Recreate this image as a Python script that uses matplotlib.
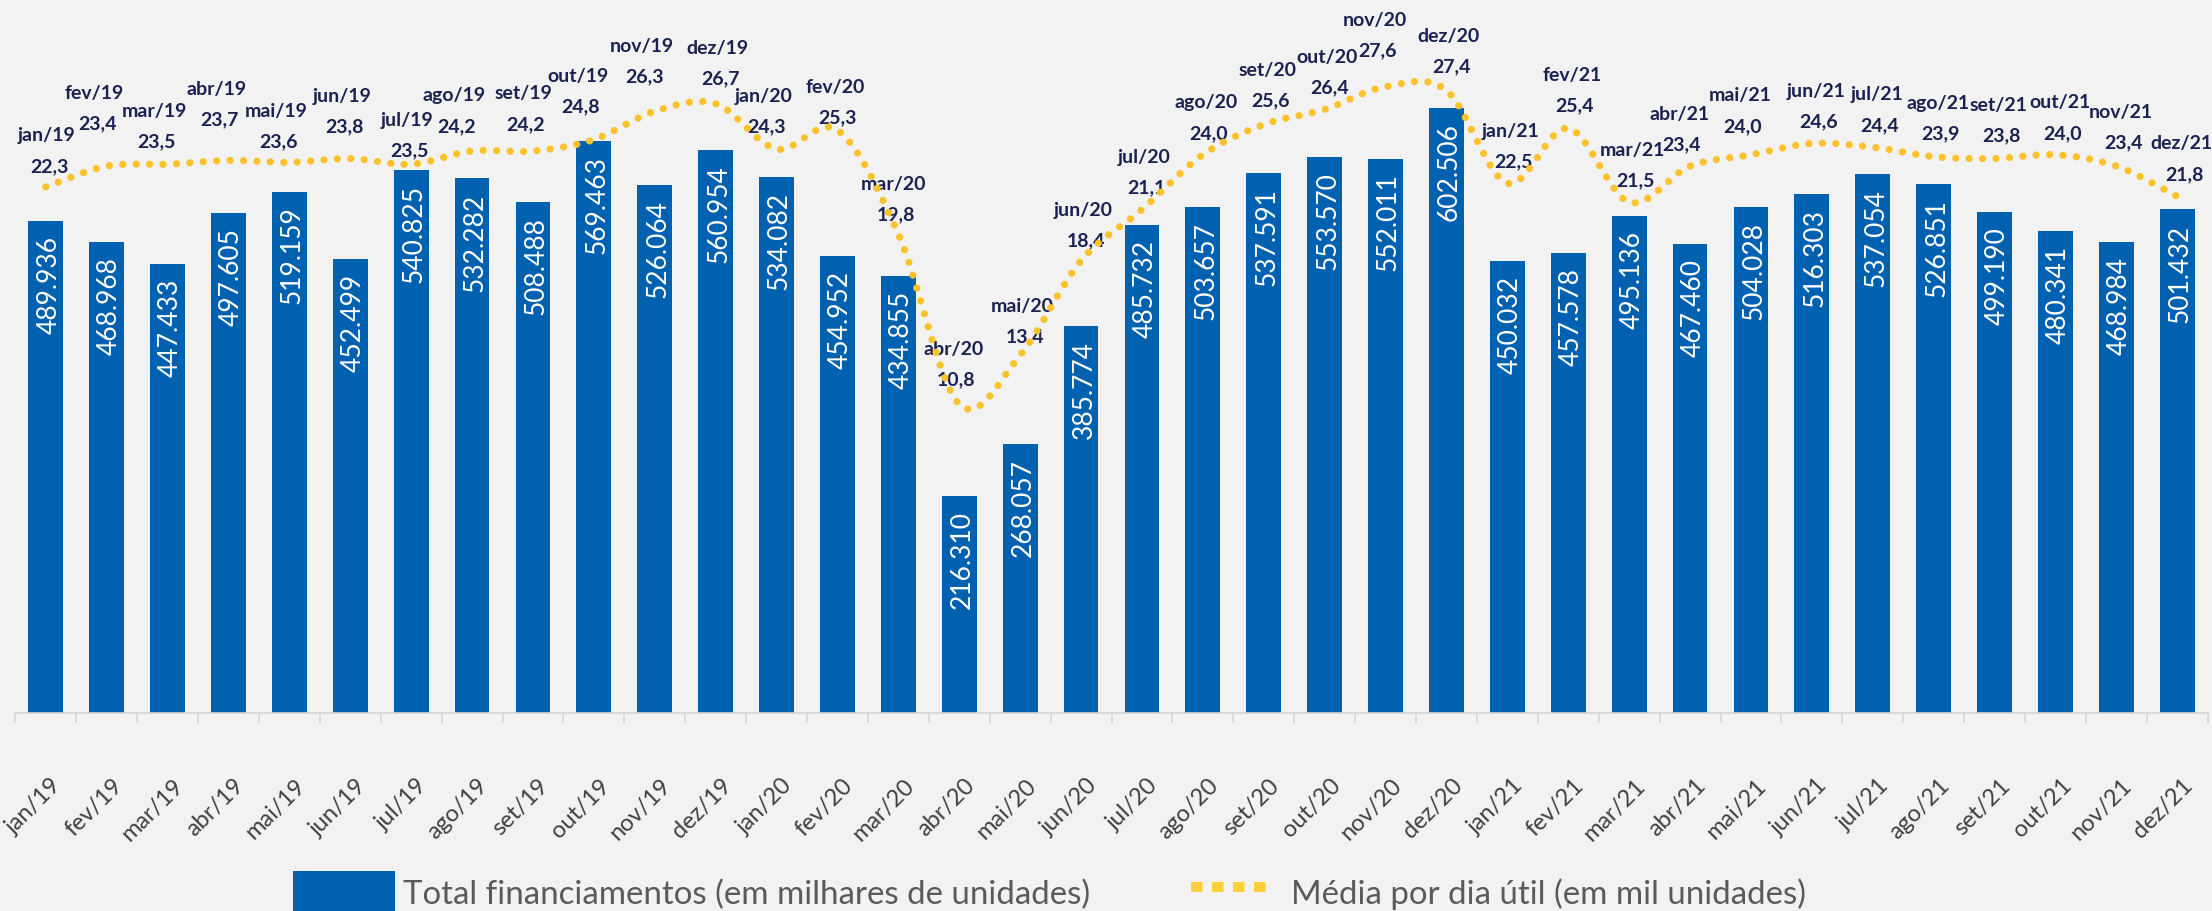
import matplotlib
matplotlib.use("Agg")
import matplotlib.pyplot as plt
import numpy as np
from matplotlib.path import Path
from matplotlib.patches import PathPatch, Patch
from matplotlib.lines import Line2D
from matplotlib.legend_handler import HandlerLine2D
import matplotlib.transforms as mtransforms


# Data
months = [
    "jan/19", "fev/19", "mar/19", "abr/19", "mai/19", "jun/19",
    "jul/19", "ago/19", "set/19", "out/19", "nov/19", "dez/19",
    "jan/20", "fev/20", "mar/20", "abr/20", "mai/20", "jun/20",
    "jul/20", "ago/20", "set/20", "out/20", "nov/20", "dez/20",
    "jan/21", "fev/21", "mar/21", "abr/21", "mai/21", "jun/21",
    "jul/21", "ago/21", "set/21", "out/21", "nov/21", "dez/21",
]
total_financiamentos = [
    489.936, 468.968, 447.433, 497.605, 519.159, 452.499,
    540.825, 532.282, 508.488, 569.463, 526.064, 560.954,
    534.082, 454.952, 434.855, 216.310, 268.057, 385.774,
    485.732, 503.657, 537.591, 553.570, 552.011, 602.506,
    450.032, 457.578, 495.136, 467.460, 504.028, 516.303,
    537.054, 526.851, 499.190, 480.341, 468.984, 501.432,
]
media_dia_util = [
    22.3, 23.4, 23.5, 23.7, 23.6, 23.8, 23.5, 24.2, 24.2, 24.8, 26.3, 26.7,
    24.3, 25.3, 19.8, 10.8, 13.4, 18.4, 21.1, 24.0, 25.6, 26.4, 27.6, 27.4,
    22.5, 25.4, 21.5, 23.4, 24.0, 24.6, 24.4, 23.9, 23.8, 24.0, 23.4, 21.8,
]

# Label placement (pixel offsets of the month label from its point)
label_dx = [1, -12, -13.5, -12, -13.5, -8, -4, -18, -9.5, -15.5, -13, 2,
            -13, -2.5, -5, -6, 2.5, 2.3, 2, 3, 4, 2, -11, 2.5,
            3.3, 3.7, 3.5, -10.7, -11, 4, 4, 4, 4, 5, 4.4, 4.5]
label_dy = [52, 74, 54, 72, 52, 63, 45, 56, 58, 64, 66, 56,
            53.5, 44, 51, 56, 50, 51, 53, 53, 55, 53, 67, 55,
            53, 54, 52.5, 53, 60, 53, 53.4, 54, 54, 53, 54.5, 53.5]

BG = "#f2f2f2"
BLUE = "#0061b0"
YELLOW = "#fbc22b"
NAVY = "#1b2150"
FONT = "Lato"

plt.rcParams["font.family"] = [FONT, "DejaVu Sans"]

fig = plt.figure(figsize=(22.12, 9.12), dpi=100, facecolor=BG)
ax = fig.add_axes([15.3 / 2212, 198 / 912, 2192.4 / 2212, 700 / 912])
ax.set_facecolor(BG)

x = np.arange(len(months))
ax.bar(x, total_financiamentos, width=0.57, color=BLUE, zorder=2)
ax.set_xlim(-0.5, len(months) - 0.5)
ax.set_ylim(0, 697)

for xi, v in zip(x, total_financiamentos):
    ax.annotate(f"{v:.3f}", xy=(xi, v), xytext=(3, -14), textcoords="offset pixels",
                rotation=90, ha="center", va="top", color="white",
                fontsize=19, zorder=3)

for side in ["top", "right", "left"]:
    ax.spines[side].set_visible(False)
ax.spines["bottom"].set_color("#d4d4d4")
ax.spines["bottom"].set_linewidth(1.2)
ax.set_yticks([])
ax.set_xticks(x)
ax.set_xticklabels(months, rotation=45, ha="right", rotation_mode="anchor",
                   fontsize=17, color="#404040")
ax.tick_params(axis="x", which="major", length=0, pad=44)
shift = mtransforms.ScaledTranslation(5 / 100, 0, fig.dpi_scale_trans)
for lab in ax.get_xticklabels():
    lab.set_transform(lab.get_transform() + shift)
ax.set_xticks(np.arange(-0.5, len(months)), minor=True)
ax.tick_params(axis="x", which="minor", length=7, color="#d4d4d4", width=1.2)

ax2 = ax.twinx()
ax2.set_ylim(-5.53, 31.5)
ax2.set_yticks([])
for side in ["top", "right", "left", "bottom"]:
    ax2.spines[side].set_visible(False)

# smoothed dotted line through the points (Bezier in display space)
pts = ax2.transData.transform(np.column_stack([x, media_dia_util]))
verts = [pts[0]]
codes = [Path.MOVETO]
for i in range(len(pts) - 1):
    p0 = pts[i - 1] if i > 0 else pts[i]
    p1 = pts[i]
    p2 = pts[i + 1]
    p3 = pts[i + 2] if i + 2 < len(pts) else pts[i + 1]
    verts += [p1 + (p2 - p0) / 6, p2 - (p3 - p1) / 6, p2]
    codes += [Path.CURVE4] * 3
curve = PathPatch(Path(verts, codes), transform=mtransforms.IdentityTransform(),
                  fill=False, edgecolor=YELLOW, linewidth=5.2,
                  linestyle=(0, (0.01, 1.85)), capstyle="round", zorder=4)
fig.add_artist(curve)

for xi, v, dx, dy, m in zip(x, media_dia_util, label_dx, label_dy, months):
    ax2.annotate(m, xy=(xi, v), xytext=(dx, dy), textcoords="offset pixels",
                 ha="center", va="center", fontsize=14, fontweight="bold", color=NAVY)
    ax2.annotate(f"{v:.1f}".replace(".", ","), xy=(xi, v), xytext=(dx + 2.5, dy - 30.5),
                 textcoords="offset pixels", ha="center", va="center",
                 fontsize=14, fontweight="bold", color=NAVY)


class RightLine(HandlerLine2D):
    # draw the legend line shorter, leaving a gap on both sides of the box
    def create_artists(self, legend, orig_handle, xdescent, ydescent, width, height,
                       fontsize, trans):
        w2 = width * 0.8
        return super().create_artists(legend, orig_handle, xdescent - width * 0.1,
                                      ydescent, w2, height, fontsize, trans)


bar_handle = Patch(facecolor=BLUE, edgecolor="none")
line_handle = Line2D([], [], color="#ffd03a", linewidth=7.2, linestyle=(0, (1.15, 0.95)),
                     dash_capstyle="butt")
leg = fig.legend([bar_handle, line_handle],
                 ["Total financiamentos (em milhares de unidades)",
                  "Média por dia útil (em mil unidades)"],
                 loc="center left", bbox_to_anchor=(293 / 2212, 19 / 912),
                 ncol=2, frameon=False, fontsize=23.8, handlelength=3.1, handleheight=1.6,
                 handletextpad=0.22, columnspacing=2.75, borderaxespad=0, borderpad=0,
                 handler_map={line_handle: RightLine()})
for t in leg.get_texts():
    t.set_color("#5a5a5a")

fig.savefig("out.png", dpi=100, facecolor=BG)
